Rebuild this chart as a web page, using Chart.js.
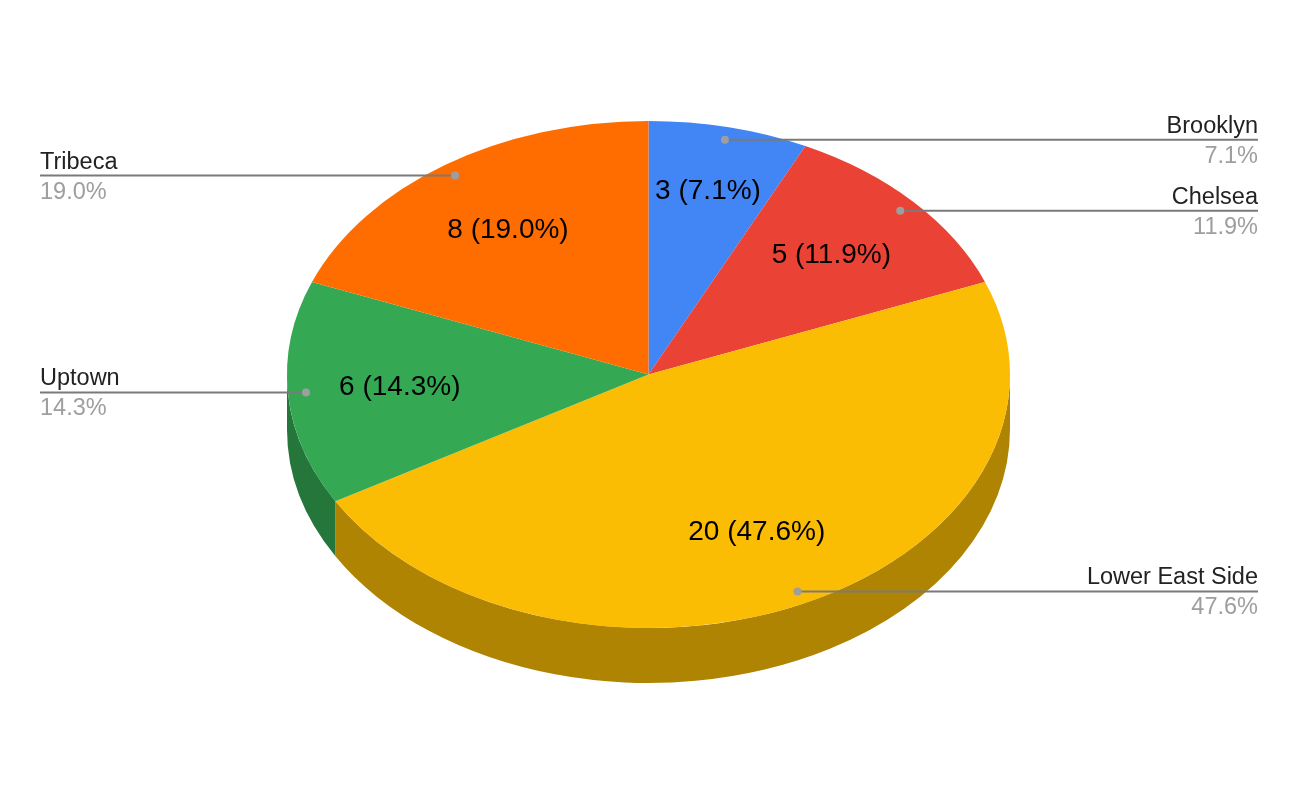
<!DOCTYPE html>
<html>
<head>
<meta charset="utf-8">
<script src="https://cdn.jsdelivr.net/npm/chart.js@4"></script>
<style>
  html, body { margin: 0; padding: 0; background: #fff; }
  #wrap { width: 1298px; height: 804px; }
</style>
</head>
<body>
<div id="wrap"><canvas id="c" width="1298" height="804"></canvas></div>
<script>
const areas = ['Brooklyn', 'Chelsea', 'Lower East Side', 'Uptown', 'Tribeca'];
const counts = [3, 5, 20, 6, 8];
const topColors = ['#4285F4', '#EA4335', '#FBBC04', '#34A853', '#FF6D01'];
const sideColors = ['#2e5dab', '#a42f25', '#b08403', '#24763a', '#b34c01'];

// ellipse of the tilted top face and the height of the wall
const CX = 648.5, CY = 374.5, RX = 361.5, RY = 253.5, DEPTH = 55;
const FONT = 'Arial, "Liberation Sans", sans-serif';

const total = counts.reduce((a, b) => a + b, 0);
const pct = v => (v / total * 100).toFixed(1) + '%';

const tilt3d = {
  id: 'tilt3d',
  beforeDatasetsDraw(chart) {
    const ctx = chart.ctx;
    const arcs = chart.getDatasetMeta(0).data;
    // walls: only the front half (canvas angles 0..PI) shows
    arcs.forEach((arc, i) => {
      const a1 = Math.max(arc.startAngle, 0);
      const a2 = Math.min(arc.endAngle, Math.PI);
      if (a2 <= a1) return;
      ctx.beginPath();
      ctx.ellipse(CX, CY, RX, RY, 0, a1, a2);
      ctx.ellipse(CX, CY + DEPTH, RX, RY, 0, a2, a1, true);
      ctx.closePath();
      ctx.fillStyle = sideColors[i];
      ctx.fill();
    });
    const a = arcs[0];
    ctx.save();
    ctx.translate(CX, CY);
    ctx.scale(RX / a.outerRadius, RY / a.outerRadius);
    ctx.translate(-a.x, -a.y);
  },
  afterDatasetsDraw(chart) {
    const ctx = chart.ctx;
    ctx.restore();
    const arcs = chart.getDatasetMeta(0).data;
    arcs.forEach((arc, i) => {
      const mid = (arc.startAngle + arc.endAngle) / 2;
      const cos = Math.cos(mid), sin = Math.sin(mid);

      // value label inside the slice (narrow slices push it a bit outward)
      const span = arc.endAngle - arc.startAngle;
      const lr = span < 0.5 ? 0.74 : 0.69;
      ctx.fillStyle = '#000';
      ctx.font = '28px ' + FONT;
      ctx.textAlign = 'center';
      ctx.textBaseline = 'middle';
      ctx.fillText(counts[i] + ' (' + pct(counts[i]) + ')',
        CX + cos * RX * lr, CY + sin * RY * lr);

      // leader dot and line
      const dx = CX + cos * RX * 0.95;
      const dy = CY + sin * RY * 0.95;
      const right = cos >= 0;
      const ex = right ? 1258 : 40;
      ctx.strokeStyle = '#7a7a7a';
      ctx.lineWidth = 2;
      ctx.beginPath();
      ctx.moveTo(dx, dy);
      ctx.lineTo(ex, dy);
      ctx.stroke();
      ctx.fillStyle = '#9e9e9e';
      ctx.beginPath();
      ctx.arc(dx, dy, 4, 0, Math.PI * 2);
      ctx.fill();

      // outside labels
      ctx.textAlign = right ? 'right' : 'left';
      ctx.textBaseline = 'alphabetic';
      ctx.font = '23.5px ' + FONT;
      ctx.fillStyle = '#222';
      ctx.fillText(areas[i], ex, dy - 7);
      ctx.fillStyle = '#9e9e9e';
      ctx.fillText(pct(counts[i]), ex, dy + 23);
    });
  }
};

new Chart(document.getElementById('c'), {
  type: 'pie',
  data: {
    labels: areas,
    datasets: [{
      data: counts,
      backgroundColor: topColors,
      borderWidth: 0
    }]
  },
  options: {
    responsive: false,
    animation: false,
    plugins: {
      legend: { display: false },
      tooltip: { enabled: false }
    }
  },
  plugins: [tilt3d]
});
</script>
</body>
</html>
